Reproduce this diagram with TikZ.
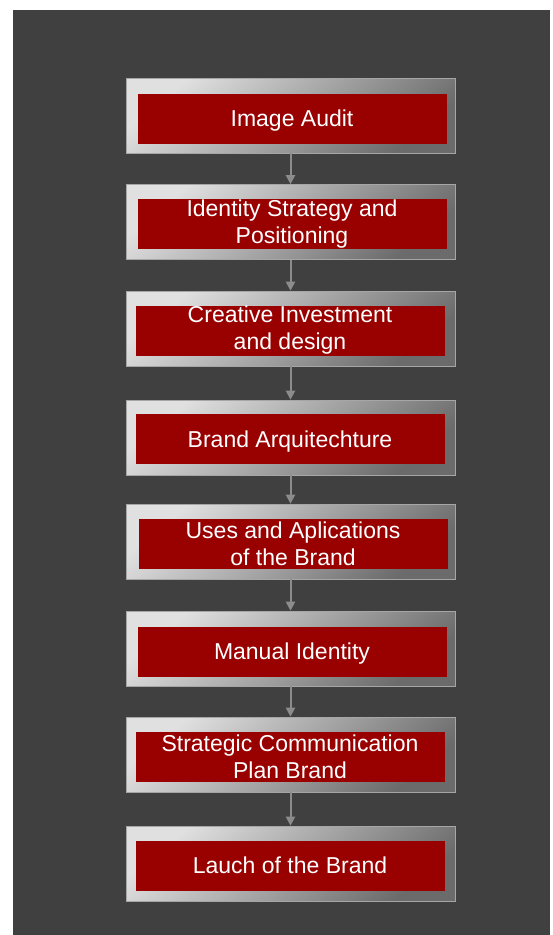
\documentclass[tikz,border=0pt]{standalone}
\usepackage{fontspec}
\setmainfont{Liberation Sans}
\usetikzlibrary{arrows.meta}
\tikzset{>={Triangle[width=9pt,length=9pt]}}
\definecolor{panel}{HTML}{404040}
\definecolor{stepred}{HTML}{990000}
\definecolor{arrowgray}{HTML}{8C8C8C}
\tikzset{
  stepframe/.style={minimum width=329pt, minimum height=75pt, inner sep=0pt,
    top color=black!12, bottom color=black!58, shading angle=40,
    draw=gray!70, line width=0.6pt},
  redbox/.style={fill=stepred, text=white, minimum width=309pt, minimum height=50pt,
    inner sep=0pt, align=center, font=\fontsize{23}{27}\selectfont},
  oneline/.style={text height=16.5pt, text depth=0pt},
  flow/.style={->, draw=arrowgray, line width=2pt}
}

\begin{document}
\begin{tikzpicture}[x=1pt,y=-1pt]
  \useasboundingbox (0,0) rectangle (552,935);
  \fill[panel] (13,10) rectangle (550,935);

  \node[stepframe] (F1) at (290.5,115.5) {};
  \node[stepframe] (F2) at (290.5,222) {};
  \node[stepframe] (F3) at (290.5,328.5) {};
  \node[stepframe] (F4) at (290.5,437.5) {};
  \node[stepframe] (F5) at (290.5,541.5) {};
  \node[stepframe] (F6) at (290.5,648.5) {};
  \node[stepframe] (F7) at (290.5,754.5) {};
  \node[stepframe] (F8) at (290.5,863.5) {};

  \node[redbox, oneline] (AUDIT) at (292,118.5) {Image Audit};
  \node[redbox] (STRATEGY) at (292,224) {Identity Strategy and\\Positioning};
  \node[redbox] (CREATIVE) at (290,330.5) {Creative Investment\\and design};
  \node[redbox, oneline] (ARCH) at (290,439) {Brand Arquitechture};
  \node[redbox] (USES) at (293,544) {Uses and Aplications\\of the Brand};
  \node[redbox, oneline] (MANUAL) at (292,651.5) {Manual Identity};
  \node[redbox] (PLAN) at (290,757) {Strategic Communication\\Plan Brand};
  \node[redbox, oneline] (LAUNCH) at (290,865.5) {Lauch of the Brand};

  \draw[flow] (F1) -- (F2);
  \draw[flow] (F2) -- (F3);
  \draw[flow] (F3) -- (F4);
  \draw[flow] (F4) -- (F5);
  \draw[flow] (F5) -- (F6);
  \draw[flow] (F6) -- (F7);
  \draw[flow] (F7) -- (F8);
\end{tikzpicture}
\end{document}
